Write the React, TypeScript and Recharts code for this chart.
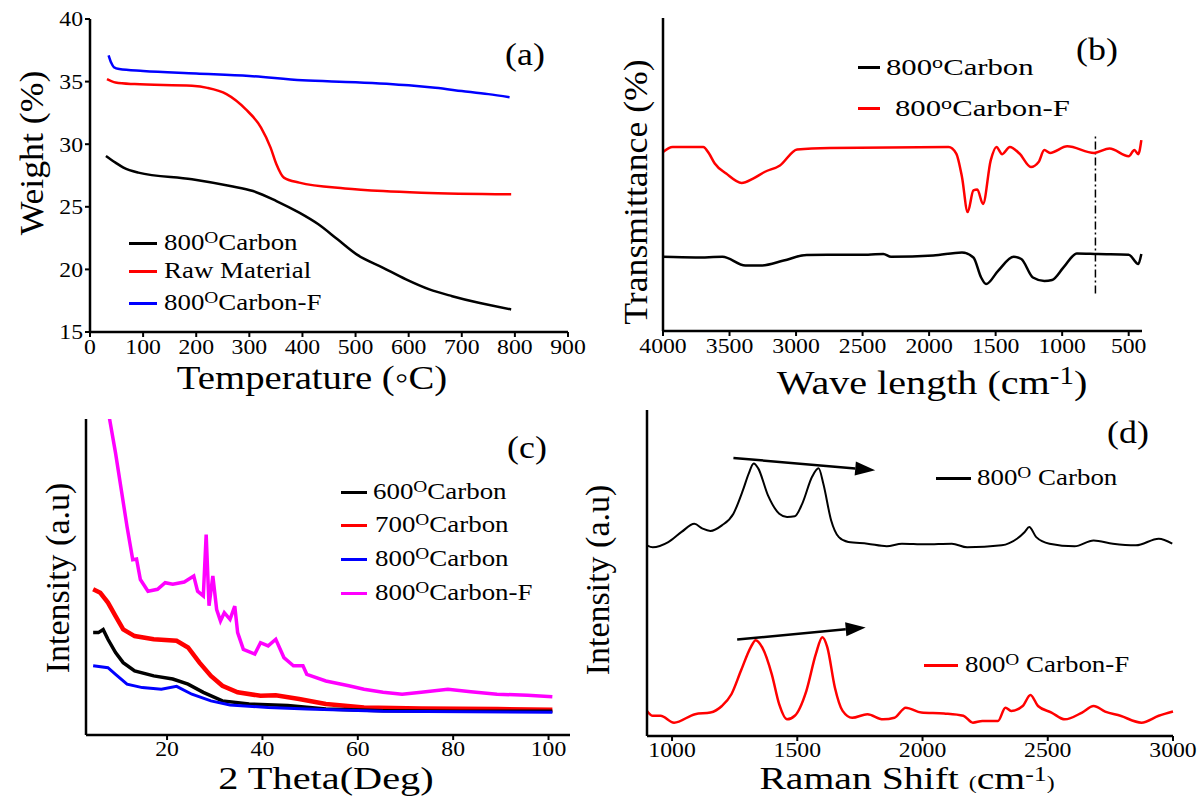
import React from "react";
import { LineChart, Line, XAxis, YAxis, ReferenceLine } from "recharts";

const serif = '"Liberation Serif", "DejaVu Serif", "Times New Roman", serif';

// (a) TGA
const carbonTemp = [30, 48, 63, 91, 192, 264, 307, 351, 394, 430, 466, 502, 552, 595, 639, 682, 732, 793];
const carbonWeight = [29.06, 28.53, 28.13, 27.73, 27.2, 26.66, 26.26, 25.46, 24.53, 23.6, 22.4, 21.2, 20.13, 19.2, 18.4, 17.86, 17.33, 16.8];
const rawTemp = [32, 48, 84, 192, 221, 257, 293, 322, 340, 351, 365, 394, 480, 552, 624, 793];
const rawWeight = [35.2, 34.93, 34.8, 34.66, 34.5, 34.0, 32.8, 31.33, 29.73, 28.4, 27.33, 26.93, 26.47, 26.26, 26.13, 26.0];
const carbonFTemp = [35, 40, 45, 55, 100, 200, 300, 400, 500, 600, 650, 700, 750, 790];
const carbonFWeight = [37.1, 36.5, 36.15, 36.0, 35.85, 35.65, 35.45, 35.1, 34.95, 34.7, 34.5, 34.25, 34.0, 33.75];
const tempTicks = [0, 100, 200, 300, 400, 500, 600, 700, 800, 900];
const weightTicks = [15, 20, 25, 30, 35, 40];

// (b) FTIR
const ftirWaveF = [4000, 3928, 3698, 3654, 3611, 3525, 3409, 3323, 3237, 3121, 2992, 2747, 1854, 1796, 1753, 1710, 1667, 1638, 1595, 1537, 1494, 1451, 1393, 1321, 1235, 1177, 1134, 1091, 962, 760, 644, 500, 457, 428, 405];
const ftirF = [57.2, 58.8, 58.8, 56.7, 53.5, 50.3, 47.3, 48.7, 50.8, 52.9, 58.0, 58.5, 58.8, 56.7, 49.2, 38.0, 44.9, 45.2, 40.6, 54.5, 58.8, 56.5, 58.8, 56.7, 52.4, 54.0, 57.8, 56.9, 59.0, 56.9, 58.3, 55.8, 57.8, 56.5, 61.0];
const ftirWaveC = [4000, 3755, 3553, 3381, 3265, 3093, 2920, 2459, 2344, 2286, 1969, 1753, 1667, 1609, 1572, 1480, 1364, 1307, 1220, 1134, 1076, 990, 889, 730, 500, 428, 405];
const ftirC = [23.7, 23.5, 23.7, 20.9, 20.9, 22.5, 24.3, 24.4, 24.6, 23.7, 24.1, 25.1, 23.5, 17.1, 15.0, 19.3, 23.7, 23.0, 17.1, 16.0, 16.3, 20.3, 24.8, 24.6, 24.4, 21.4, 24.6];
const waveTicks = [4000, 3500, 3000, 2500, 2000, 1500, 1000, 500];

// (c) XRD
const xrd600Theta = [4.5, 5.6, 6.6, 7.6, 9.2, 10.8, 13.2, 17.2, 21.2, 24.4, 27.6, 31.6, 37.2, 45.3, 53.3, 65.3, 81.3, 100.8];
const xrd600 = [32.4, 32.4, 33.4, 30.3, 26.1, 22.9, 20.3, 18.7, 17.7, 16.1, 13.5, 10.8, 9.8, 9.3, 8.2, 7.7, 7.5, 7.5];
const xrd700Theta = [4.5, 6.0, 7.6, 9.2, 10.8, 13.2, 17.2, 22.0, 24.4, 26.8, 29.2, 31.6, 34.8, 39.6, 42.8, 47.7, 53.3, 61.3, 73.3, 89.3, 100.8];
const xrd700 = [46.1, 45.0, 41.9, 37.6, 33.4, 31.3, 30.3, 29.8, 27.7, 22.9, 18.7, 15.6, 13.5, 12.4, 12.6, 11.4, 9.8, 8.7, 8.4, 8.2, 8.0];
const xrd800Theta = [4.5, 7.6, 9.2, 11.6, 14.8, 18.8, 22.0, 25.2, 29.2, 33.2, 41.2, 49.3, 65.3, 100.8];
const xrd800 = [21.9, 21.3, 19.2, 16.1, 15.0, 14.5, 15.4, 12.9, 10.8, 9.5, 8.7, 8.2, 7.5, 7.2];
const xrdFTheta = [7.5, 7.98, 9.2, 10.4, 11.6, 12.8, 13.6, 14.4, 16.0, 18.0, 19.6, 21.2, 23.6, 25.6, 26.4, 27.6, 28.2, 28.8, 29.6, 30.4, 31.2, 32.0, 33.2, 34.2, 34.8, 36.0, 38.4, 39.6, 41.2, 42.8, 44.5, 46.5, 48.5, 49.3, 53.3, 58.1, 61.3, 65.3, 69.3, 73.3, 78.9, 83.7, 89.2, 95.6, 100.8];
const xrdF = [104, 99.7, 89.2, 77.6, 66.0, 55.5, 55.7, 49.2, 45.5, 46.1, 48.2, 47.7, 48.4, 50.3, 45.5, 44.0, 63.4, 40.9, 50.3, 39.7, 36.1, 38.7, 36.6, 40.8, 32.4, 27.1, 25.6, 29.2, 28.2, 30.3, 24.5, 21.9, 21.9, 19.2, 17.1, 15.6, 14.5, 13.5, 12.9, 13.5, 14.5, 13.7, 12.9, 12.6, 12.1];
const thetaTicks = [20, 40, 60, 80, 100];

// (d) Raman
const ramanShiftC = [900, 923, 985, 1038, 1089, 1122, 1153, 1199, 1245, 1283, 1306, 1326, 1344, 1383, 1428, 1459, 1490, 1520, 1559, 1585, 1604, 1635, 1666, 1704, 1780, 1857, 1918, 2010, 2117, 2178, 2316, 2377, 2408, 2426, 2454, 2507, 2607, 2683, 2760, 2852, 2943, 2997];
const ramanC = [58.5, 57.9, 59.5, 62.6, 65.1, 63.6, 62.9, 64.6, 68.2, 75.4, 80.5, 83.6, 82.1, 73.8, 68.2, 67.2, 67.4, 71.3, 79.5, 82.1, 77.4, 66.2, 61.0, 59.5, 59.0, 58.2, 59.0, 58.8, 59.0, 57.9, 58.5, 60.5, 62.6, 64.1, 61.0, 59.0, 58.2, 60.0, 59.0, 58.5, 60.5, 59.0];
const ramanShiftF = [900, 923, 954, 1008, 1092, 1153, 1199, 1237, 1275, 1314, 1334, 1360, 1398, 1428, 1459, 1490, 1536, 1574, 1600, 1620, 1650, 1681, 1719, 1780, 1842, 1888, 1933, 1995, 2086, 2163, 2201, 2239, 2301, 2331, 2354, 2400, 2431, 2461, 2515, 2568, 2637, 2683, 2729, 2790, 2874, 2943, 3000];
const ramanF = [7.7, 6.2, 6.2, 4.1, 6.7, 7.2, 9.2, 12.8, 20.0, 27.2, 29.4, 27.2, 19.0, 9.7, 5.1, 6.2, 13.8, 25.1, 30.3, 27.2, 14.9, 7.7, 5.6, 6.7, 5.1, 5.6, 8.7, 7.2, 6.9, 6.2, 4.1, 4.6, 4.6, 8.7, 7.7, 9.2, 12.6, 9.2, 7.2, 5.1, 7.2, 9.2, 7.5, 6.2, 4.1, 6.2, 7.5];
const ramanTicks = [1000, 1500, 2000, 2500, 3000];

const zip = (xs: number[], ys: number[]) => xs.map((x, i) => ({ x, y: ys[i] }));

const axisLine = { stroke: "#000", strokeWidth: 2.5 };
const tickLine = { stroke: "#000", strokeWidth: 2 };
const TICK_FS = 21;
const TICK_SX = 1.13;

// tick text, stretched a little sideways like the source figure
function XTick(props: any) {
  const { x, y, payload } = props;
  return (
    <g transform={`translate(${x},${y})`}>
      <text transform={`scale(${TICK_SX},1)`} textAnchor="middle" dy="0.7em" fontFamily={serif} fontSize={TICK_FS} fill="#000">
        {payload.value}
      </text>
    </g>
  );
}

function YTick(props: any) {
  const { x, y, payload } = props;
  return (
    <g transform={`translate(${x},${y})`}>
      <text transform={`scale(${TICK_SX},1)`} textAnchor="end" dy="0.35em" fontFamily={serif} fontSize={TICK_FS} fill="#000">
        {payload.value}
      </text>
    </g>
  );
}

// frame: top + right axes with no ticks
function frame(domainX: [number, number], reversed = false) {
  return [
    <XAxis key="xt" xAxisId="top" orientation="top" type="number" domain={domainX} reversed={reversed} height={0} tick={false} tickLine={false} axisLine={axisLine} allowDataOverflow />,
    <YAxis key="yr" yAxisId="right" orientation="right" width={0} tick={false} tickLine={false} axisLine={axisLine} />,
  ];
}

const Sup = ({ c, lift = 0.42, fs = 0.72, tight = false }: { c: string; lift?: number; fs?: number; tight?: boolean }) => (
  <span
    style={{
      fontSize: `${fs}em`,
      position: "relative",
      top: `-${lift}em`,
      display: tight ? "inline-block" : "inline",
      lineHeight: tight ? 0.5 : undefined,
    }}
  >
    {c}
  </span>
);

function Txt({ x, y, size, children, rotate = false, center = true, sx = 1, lh = 0.85 }: any) {
  return (
    <div
      style={{
        position: "absolute",
        left: x,
        top: y,
        fontFamily: serif,
        fontSize: size,
        color: "#000",
        whiteSpace: "nowrap",
        lineHeight: lh,
        transformOrigin: center ? "center" : "left center",
        transform: `translate(${center ? "-50%" : "0"}, -50%)${rotate ? " rotate(-90deg)" : ""} scaleX(${sx})`,
      }}
    >
      {children}
    </div>
  );
}

function Key({ x1, x2, y, color, tx, size, sx = 1.17, children }: any) {
  return (
    <>
      <div style={{ position: "absolute", left: x1, top: y - 1.5, width: x2 - x1, height: 3, background: color }} />
      <Txt x={tx} y={y} size={size} center={false} sx={sx}>{children}</Txt>
    </>
  );
}

const Arrow = (props: any) => {
  const { x1, y1, x2, y2 } = props;
  if ([x1, y1, x2, y2].some((v) => typeof v !== "number" || isNaN(v))) return null;
  const ang = Math.atan2(y2 - y1, x2 - x1);
  const len = 20;
  const half = 7;
  const bx = x2 - len * Math.cos(ang);
  const by = y2 - len * Math.sin(ang);
  const px = -Math.sin(ang) * half;
  const py = Math.cos(ang) * half;
  return (
    <g>
      <line x1={x1} y1={y1} x2={bx} y2={by} stroke="#000" strokeWidth={2.5} />
      <polygon points={`${x2},${y2} ${bx + px},${by + py} ${bx - px},${by - py}`} fill="#000" />
    </g>
  );
};

const TITLE_FS = 34;
const TITLE_SX = 1.14;

export default function App() {
  return (
    <div style={{ position: "absolute", left: 0, top: 0, width: 1199, height: 797, background: "#fff", overflow: "hidden" }}>
      {/* (a) */}
      <div style={{ position: "absolute", left: 0, top: 0 }}>
        <LineChart width={600} height={400} margin={{ top: 19, right: 32, bottom: 38, left: 0 }}>
          <XAxis type="number" dataKey="x" domain={[0, 900]} ticks={tempTicks} height={30} tick={<XTick />} tickLine={tickLine} axisLine={axisLine} tickSize={5} />
          <YAxis type="number" domain={[15, 40]} ticks={weightTicks} width={90} tick={<YTick />} tickLine={tickLine} axisLine={axisLine} tickSize={5} />
          {frame([0, 900])}
          <Line data={zip(carbonTemp, carbonWeight)} dataKey="y" type="monotone" stroke="#000" strokeWidth={2.5} dot={false} isAnimationActive={false} />
          <Line data={zip(rawTemp, rawWeight)} dataKey="y" type="monotone" stroke="#ff0000" strokeWidth={2.5} dot={false} isAnimationActive={false} />
          <Line data={zip(carbonFTemp, carbonFWeight)} dataKey="y" type="monotone" stroke="#0000ff" strokeWidth={2.5} dot={false} isAnimationActive={false} />
        </LineChart>
      </div>
      <Txt x={32} y={153} size={TITLE_FS} rotate sx={1.05}>Weight (%)</Txt>
      <Txt x={312} y={378} size={TITLE_FS} sx={TITLE_SX}>Temperature (◦C)</Txt>
      <Txt x={525} y={55} size={32} sx={1.12}>(a)</Txt>
      <Key x1={129} x2={157} y={243} color="#000" tx={164} size={23}>800<Sup c="O" />Carbon</Key>
      <Key x1={129} x2={157} y={271} color="#ff0000" tx={164} size={23}>Raw Material</Key>
      <Key x1={129} x2={157} y={303} color="#0000ff" tx={164} size={23}>800<Sup c="O" />Carbon-F</Key>

      {/* (b) */}
      <div style={{ position: "absolute", left: 600, top: 0 }}>
        <LineChart width={599} height={400} margin={{ top: 18, right: 57, bottom: 39, left: 0 }}>
          <XAxis type="number" dataKey="x" domain={[400, 4000]} reversed ticks={waveTicks} height={30} tick={<XTick />} tickLine={tickLine} axisLine={axisLine} tickSize={5} />
          <YAxis type="number" domain={[0, 100]} width={63} tick={false} tickLine={false} axisLine={axisLine} />
          {frame([400, 4000], true)}
          <ReferenceLine segment={[{ x: 750, y: 12 }, { x: 750, y: 63 }]} stroke="#000" strokeWidth={1.5} strokeDasharray="8 3 2 3" />
          <Line data={zip(ftirWaveF, ftirF)} dataKey="y" type="monotone" stroke="#ff0000" strokeWidth={2.5} dot={false} isAnimationActive={false} />
          <Line data={zip(ftirWaveC, ftirC)} dataKey="y" type="monotone" stroke="#000" strokeWidth={2.5} dot={false} isAnimationActive={false} />
        </LineChart>
      </div>
      <Txt x={636} y={192} size={TITLE_FS} rotate sx={1.05}>Transmittance (%)</Txt>
      <Txt x={932} y={383} size={TITLE_FS} sx={1.18}>Wave length (cm<Sup c="-1" />)</Txt>
      <Txt x={1097} y={50} size={32} sx={1.12}>(b)</Txt>
      <Key x1={858} x2={880} y={67} color="#000" tx={886} size={24} sx={1.28}>800<Sup c="o" />Carbon</Key>
      <Key x1={858} x2={880} y={108} color="#ff0000" tx={895} size={24} sx={1.28}>800<Sup c="o" />Carbon-F</Key>

      {/* (c) */}
      <div style={{ position: "absolute", left: 0, top: 400 }}>
        <LineChart width={600} height={397} margin={{ top: 19, right: 30, bottom: 32, left: 0 }}>
          <XAxis type="number" dataKey="x" domain={[3, 104.5]} ticks={thetaTicks} height={30} tick={<XTick />} tickLine={tickLine} axisLine={axisLine} tickSize={5} tickMargin={1} allowDataOverflow />
          <YAxis type="number" domain={[0, 100]} width={86} tick={false} tickLine={false} axisLine={axisLine} allowDataOverflow />
          {frame([3, 104.5])}
          <Line data={zip(xrdFTheta, xrdF)} dataKey="y" type="linear" stroke="#ff00ff" strokeWidth={3.5} dot={false} isAnimationActive={false} />
          <Line data={zip(xrd700Theta, xrd700)} dataKey="y" type="linear" stroke="#ff0000" strokeWidth={4.5} dot={false} isAnimationActive={false} />
          <Line data={zip(xrd600Theta, xrd600)} dataKey="y" type="linear" stroke="#000" strokeWidth={3.5} dot={false} isAnimationActive={false} />
          <Line data={zip(xrd800Theta, xrd800)} dataKey="y" type="linear" stroke="#0000ff" strokeWidth={3} dot={false} isAnimationActive={false} />
        </LineChart>
      </div>
      <Txt x={58} y={578} size={TITLE_FS} rotate>Intensity (a.u)</Txt>
      <Txt x={326} y={778} size={32} sx={1.26} lh={0.7}>2 Theta(Deg)</Txt>
      <Txt x={527} y={448} size={32} sx={1.12}>(c)</Txt>
      <Key x1={341} x2={367} y={492} color="#000" tx={373} size={23}>600<Sup c="O" />Carbon</Key>
      <Key x1={341} x2={367} y={525} color="#ff0000" tx={375} size={23}>700<Sup c="O" />Carbon</Key>
      <Key x1={341} x2={367} y={559} color="#0000ff" tx={375} size={23}>800<Sup c="O" />Carbon</Key>
      <Key x1={341} x2={367} y={593} color="#ff00ff" tx={375} size={23}>800<Sup c="O" />Carbon-F</Key>

      {/* (d) */}
      <div style={{ position: "absolute", left: 600, top: 400 }}>
        <LineChart width={599} height={397} margin={{ top: 10, right: 26, bottom: 31, left: 0 }}>
          <XAxis type="number" dataKey="x" domain={[900, 3000]} ticks={ramanTicks} height={30} tick={<XTick />} tickLine={tickLine} axisLine={axisLine} tickSize={5} tickMargin={1} />
          <YAxis type="number" domain={[0, 100]} width={47} tick={false} tickLine={false} axisLine={axisLine} />
          {frame([900, 3000])}
          <Line data={zip(ramanShiftC, ramanC)} dataKey="y" type="monotone" stroke="#000" strokeWidth={2} dot={false} isAnimationActive={false} />
          <Line data={zip(ramanShiftF, ramanF)} dataKey="y" type="monotone" stroke="#ff0000" strokeWidth={2.5} dot={false} isAnimationActive={false} />
          <ReferenceLine segment={[{ x: 1245, y: 85.3 }, { x: 1811, y: 81.5 }]} shape={Arrow} />
          <ReferenceLine segment={[{ x: 1260, y: 29.6 }, { x: 1773, y: 33.3 }]} shape={Arrow} />
        </LineChart>
      </div>
      <Txt x={598} y={580} size={TITLE_FS} rotate>Intensity (a.u)</Txt>
      <Txt x={907} y={778} size={32} sx={1.24} lh={0.7}>
        Raman Shift <span style={{ fontSize: "0.6em" }}>(</span>cm<Sup c="-1" lift={0.4} fs={0.65} tight /><span style={{ fontSize: "0.6em" }}>)</span>
      </Txt>
      <Txt x={1128} y={433} size={32} sx={1.12}>(d)</Txt>
      <Key x1={936} x2={971} y={478} color="#000" tx={977} size={23}>800<Sup c="O" /> Carbon</Key>
      <Key x1={924} x2={958} y={665} color="#ff0000" tx={965} size={23}>800<Sup c="O" /> Carbon-F</Key>
    </div>
  );
}
